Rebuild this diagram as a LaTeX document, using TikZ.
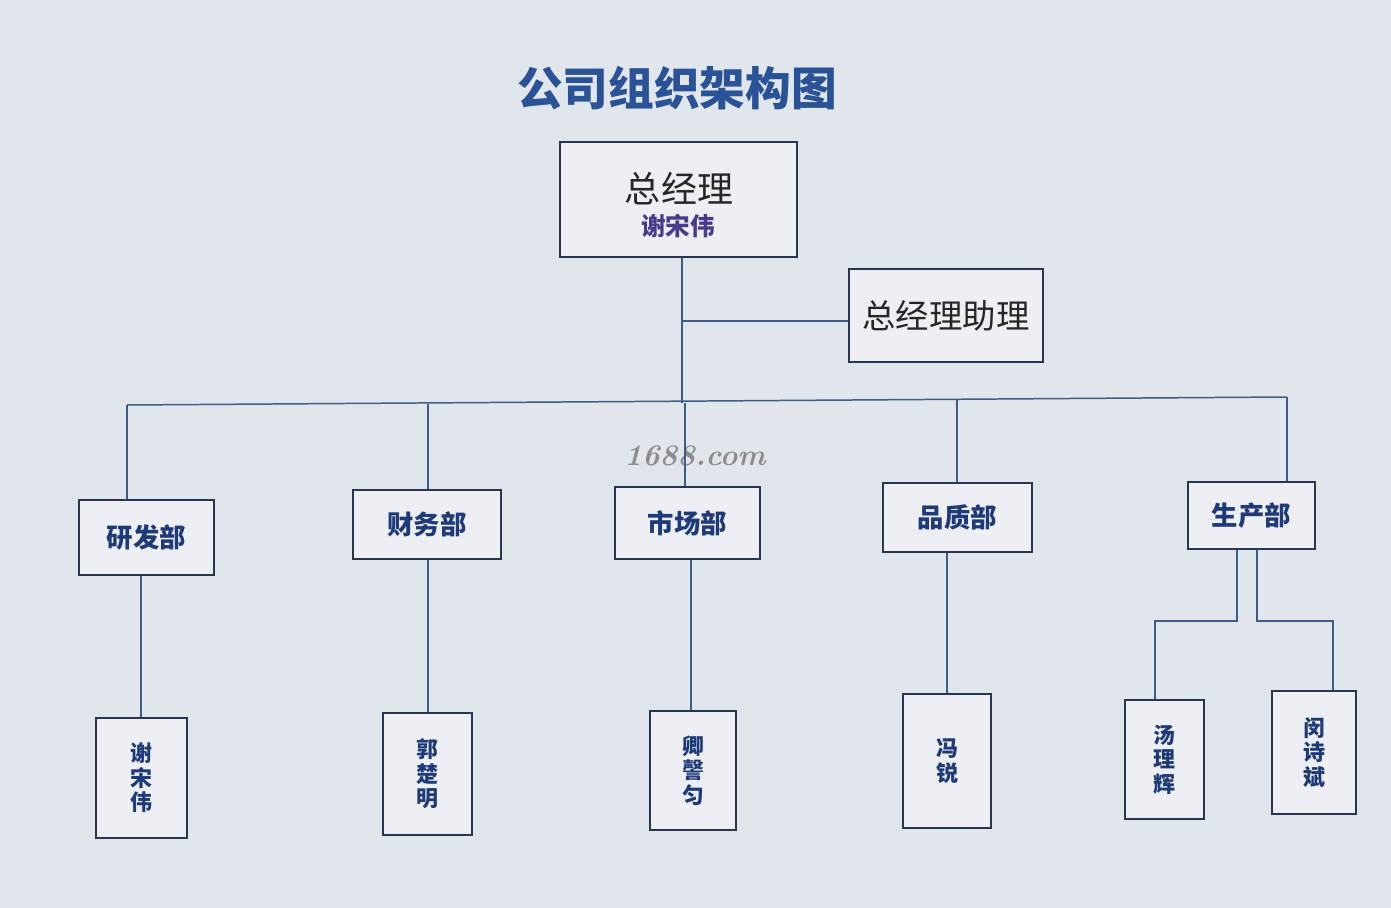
\documentclass[tikz,border=0pt]{standalone}
\usepackage{fontspec}
\newfontfamily\cjk{Noto Sans CJK SC}
\definecolor{bg}{HTML}{E1E5EC}
\definecolor{linec}{HTML}{3E5C88}
\definecolor{boxc}{HTML}{2A3550}
\definecolor{titlec}{HTML}{2A5296}
\definecolor{deptc}{HTML}{1E3A78}
\definecolor{namec}{HTML}{4A3A8C}
\tikzset{
  conn/.style={draw=linec, line width=0.85pt},
  bx/.style={draw=boxc, line width=1.4pt, fill=bg!60!white, inner sep=0pt},
  dept/.style={bx, font=\cjk\bfseries\fontsize{15}{18}\selectfont, text=deptc},
  person/.style={bx, font=\cjk\bfseries\fontsize{12.5}{14}\selectfont, text=deptc, align=center},
}
\begin{document}
\begin{tikzpicture}[x=0.02cm,y=-0.02cm]
\useasboundingbox[fill=bg] (0,0) rectangle (1391,908);
% watermark (under the lines)
\node[font=\bfseries\itshape\fontsize{17}{20}\selectfont, text=black!45] (wm) at (695,456) {1688.com};
% title
\node[font=\cjk\bfseries\fontsize{26}{30}\selectfont, text=titlec] (title) at (677,88) {公司组织架构图};
% top boxes
\node[bx, minimum width=237*0.02cm, minimum height=115*0.02cm] (gm) at (678.5,199.5) {};
\node[font=\cjk\fontsize{20.5}{24}\selectfont, text=black!85] (gmt) at (679,189) {总经理};
\node[font=\cjk\bfseries\fontsize{14}{16}\selectfont, text=namec] (gmn) at (678,226) {谢宋伟};
\node[bx, minimum width=194*0.02cm, minimum height=93*0.02cm, font=\cjk\fontsize{19}{22}\selectfont, text=black!85] (asst) at (946,315.5) {总经理助理};
% departments
\node[dept, minimum width=135*0.02cm, minimum height=75*0.02cm] (d1) at (146.5,537.5) {研发部};
\node[dept, minimum width=148*0.02cm, minimum height=69*0.02cm] (d2) at (427,524.5) {财务部};
\node[dept, minimum width=145*0.02cm, minimum height=72*0.02cm] (d3) at (687.5,523) {市场部};
\node[dept, minimum width=149*0.02cm, minimum height=69*0.02cm] (d4) at (957.5,517.5) {品质部};
\node[dept, minimum width=127*0.02cm, minimum height=67*0.02cm] (d5) at (1251.5,515.5) {生产部};
% persons
\node[person, minimum width=91*0.02cm, minimum height=120*0.02cm] (p1) at (141.5,778) {谢\\宋\\伟};
\node[person, minimum width=89*0.02cm, minimum height=122*0.02cm] (p2) at (427.5,774) {郭\\楚\\明};
\node[person, minimum width=86*0.02cm, minimum height=119*0.02cm] (p3) at (693,770.5) {卿\\謦\\匀};
\node[person, minimum width=88*0.02cm, minimum height=134*0.02cm] (p4) at (947,761) {冯\\锐};
\node[person, minimum width=79*0.02cm, minimum height=119*0.02cm] (p5) at (1164.5,759.5) {汤\\理\\辉};
\node[person, minimum width=84*0.02cm, minimum height=123*0.02cm] (p6) at (1314,752.5) {闵\\诗\\斌};
% bus coordinates
\coordinate (bus) at (682,403);
\coordinate (bl) at (127,405);
\coordinate (br) at (1287,397);
\coordinate (ajoin) at (682,321);
% connectors
\draw[conn] (gm.south -| bus) -- (bus);
\draw[conn] (ajoin) -- (asst.west |- ajoin);
\draw[conn] (bl) -- (br);
\draw[conn] (bl) -- (d1.north -| bl);
\draw[conn] (428,404) -- (d2.north -| 428,0);
\draw[conn] (685,403) -- (d3.north -| 685,0);
\draw[conn] (957,400) -- (d4.north -| 957,0);
\draw[conn] (br) -- (d5.north -| br);
\draw[conn] (d1.south -| 141,0) -- (p1.north -| 141,0);
\draw[conn] (d2.south -| 428,0) -- (p2.north -| 428,0);
\draw[conn] (d3.south -| 691,0) -- (p3.north -| 691,0);
\draw[conn] (d4.south -| 947,0) -- (p4.north -| 947,0);
\draw[conn] (d5.south -| 1237,0) -- (1237,621) -- (1155,621) -- (p5.north -| 1155,0);
\draw[conn] (d5.south -| 1257,0) -- (1257,621) -- (1333,621) -- (p6.north -| 1333,0);
\end{tikzpicture}
\end{document}
